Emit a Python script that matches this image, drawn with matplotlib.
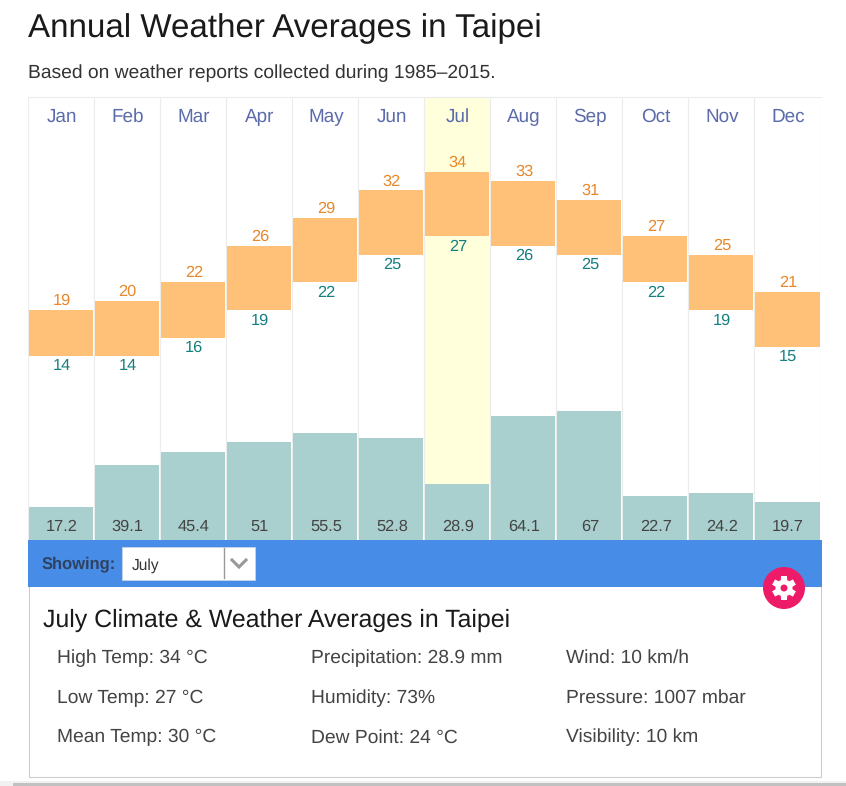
import matplotlib
matplotlib.use('Agg')
import matplotlib.pyplot as plt
from matplotlib.patches import Rectangle, Circle, Polygon
import numpy as np

months = ['Jan', 'Feb', 'Mar', 'Apr', 'May', 'Jun', 'Jul', 'Aug', 'Sep', 'Oct', 'Nov', 'Dec']
high_temp = [19, 20, 22, 26, 29, 32, 34, 33, 31, 27, 25, 21]
low_temp = [14, 14, 16, 19, 22, 25, 27, 26, 25, 22, 19, 15]
precip = [17.2, 39.1, 45.4, 51, 55.5, 52.8, 28.9, 64.1, 67, 22.7, 24.2, 19.7]
selected = 6

col_1 = ['High Temp: 34 °C', 'Low Temp: 27 °C', 'Mean Temp: 30 °C']
col_2 = ['Precipitation: 28.9 mm', 'Humidity: 73%', 'Dew Point: 24 °C']
col_3 = ['Wind: 10 km/h', 'Pressure: 1007 mbar', 'Visibility: 10 km']

W, H = 846, 786
plt.rcParams['font.family'] = ['Liberation Sans', 'DejaVu Sans']
plt.rcParams['text.hinting'] = 'no_hinting'
fig = plt.figure(figsize=(W / 100, H / 100), dpi=100, facecolor='white')

# page layer in pixel coords, for everything that is not the chart
page = fig.add_axes([0, 0, 1, 1], zorder=0)
page.set_xlim(0, W)
page.set_ylim(H, 0)
page.axis('off')

page.text(27.5, 37, 'Annual Weather Averages in Taipei', fontsize=23.9, color='#1a1a1a', va='baseline')
page.text(28, 78, 'Based on weather reports collected during 1985–2015.', fontsize=13.85, color='#333333', va='baseline')

# chart
x0, x1, y0, y1 = 28, 820.5, 97, 540
ax = fig.add_axes([x0 / W, 1 - y1 / H, (x1 - x0) / W, (y1 - y0) / H], zorder=1)
ax.patch.set_alpha(0)
ax.set_xlim(-0.5, 11.5)
ax.set_ylim(-6, 42.15)
ax.set_xticks([])
ax.set_yticks([])
for s in ax.spines.values():
    s.set_visible(False)
ax.spines['top'].set_visible(True)
ax.spines['top'].set_color('#ececec')
ax.spines['top'].set_linewidth(0.8)

ax.axvspan(selected - 0.5, selected + 0.5, color='#ffffdc', lw=0, zorder=0)
for i in range(13):
    ax.axvline(i - 0.5, color='#ececec', lw=0.8, zorder=1)

x = np.arange(12)
bottoms = np.array(low_temp)
heights = np.array(high_temp) - bottoms
ax.bar(x, heights, bottom=bottoms, width=0.97, color='#ffc078', lw=0, zorder=2)

for i in x:
    ax.annotate(str(high_temp[i]), (i, high_temp[i]), xytext=(0.7, 5), textcoords='offset pixels',
                ha='center', va='baseline', fontsize=11.8, color='#e8872a')
    ax.annotate(str(low_temp[i]), (i, low_temp[i]), xytext=(0.7, -14.5), textcoords='offset pixels',
                ha='center', va='baseline', fontsize=11.8, color='#15807f')
    ax.annotate(months[i], (i, 42.15), xytext=(0.7, -25), textcoords='offset pixels',
                ha='center', va='baseline', fontsize=13.6, color='#5b6bab')

# precipitation has its own scale on the same columns
ax2 = ax.twinx()
ax2.patch.set_alpha(0)
ax2.set_ylim(0, 229.5)
ax2.set_yticks([])
for s in ax2.spines.values():
    s.set_visible(False)
ax2.bar(x, precip, width=0.97, color='#a9cfcf', lw=0, zorder=2)
for i in x:
    ax2.annotate(f'{precip[i]:g}', (i, 0), xytext=(0.7, 9), textcoords='offset pixels',
                 ha='center', va='baseline', fontsize=11.8, color='#444444')

# selector bar and details panel
page.add_patch(Rectangle((28.5, 586), 792, 190.5, fc='white', ec='#cccccc', lw=0.8, zorder=1))
page.add_patch(Rectangle((28, 540), 793.5, 47, fc='#478ce6', lw=0, zorder=2))
page.text(42, 568.5, 'Showing:', fontsize=11.9, fontweight='bold', color='#2f4260', va='baseline', zorder=3)
page.add_patch(Rectangle((122, 547), 133, 33, fc='white', ec='#cfd8e6', lw=0.5, zorder=3))
page.plot([223.5, 223.5], [548, 578], color='#999999', lw=1, zorder=4)
page.plot([232, 239, 246], [560, 567, 560], color='#999999', lw=2.2, zorder=4, solid_joinstyle='miter')
page.text(132, 570, 'July', fontsize=11.2, color='#333333', va='baseline', zorder=4)

page.text(43, 627, 'July Climate & Weather Averages in Taipei', fontsize=17.9, color='#1a1a1a', va='baseline', zorder=3)
for col, xpos in zip([col_1, col_2, col_3], [57, 311, 566]):
    for label, ypos in zip(col, [663, 703, 742.5]):
        page.text(xpos, ypos, label, fontsize=13.85, color='#444444', va='baseline', zorder=3)

# gear button
cx, cy = 784, 588
page.add_patch(Circle((cx, cy), 21, fc='#ee1c68', lw=0, zorder=5))
page.add_patch(Circle((cx, cy), 8.5, fc='white', lw=0, zorder=6))
for a in np.deg2rad(np.arange(30, 360, 60)):
    d = np.array([np.cos(a), np.sin(a)])
    n = np.array([-d[1], d[0]])
    c = np.array([cx, cy])
    pts = [c + d * 6 + n * 3.2, c + d * 12 + n * 3, c + d * 12 - n * 3, c + d * 6 - n * 3.2]
    page.add_patch(Polygon(pts, fc='white', lw=0, zorder=6))
page.add_patch(Circle((cx, cy), 3.5, fc='#ee1c68', lw=0, zorder=7))

# browser scrollbar at the bottom
page.add_patch(Rectangle((0, 781), W, 5, fc='#f1f1f1', lw=0, zorder=1))
page.add_patch(Rectangle((13, 783), W - 13, 3, fc='#c1c1c1', lw=0, zorder=2))

fig.savefig('out.png', dpi=100, facecolor='white')
plt.close(fig)
